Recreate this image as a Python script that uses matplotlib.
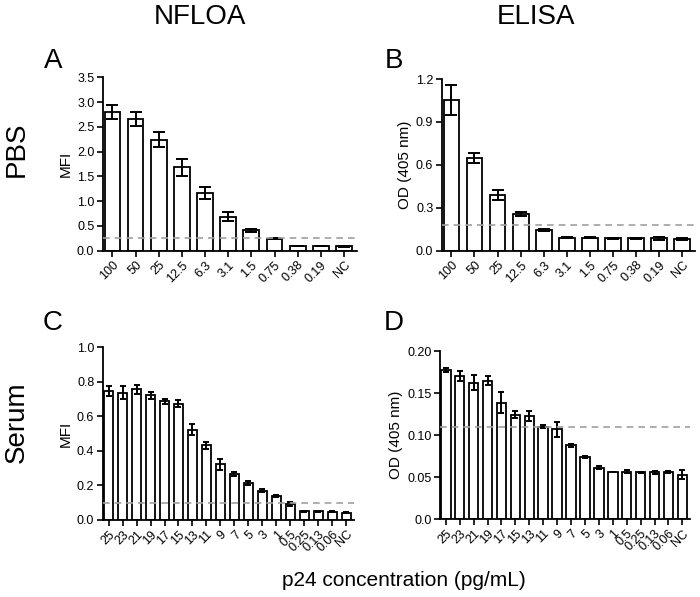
import numpy as np
import matplotlib
matplotlib.use("Agg")
import matplotlib.pyplot as plt

plt.rcParams["font.family"] = ["Liberation Sans", "DejaVu Sans"]

# PBS dilution series (pg/mL)
pbs_labels = ["100", "50", "25", "12.5", "6.3", "3.1", "1.5", "0.75", "0.38", "0.19", "NC"]
nfloa_pbs = [2.80, 2.66, 2.24, 1.68, 1.16, 0.69, 0.41, 0.24, 0.095, 0.09, 0.09]
nfloa_pbs_err = [0.14, 0.14, 0.15, 0.18, 0.12, 0.10, 0.03, 0.01, 0.005, 0.005, 0.008]
nfloa_pbs_cut = 0.26
elisa_pbs = [1.053, 0.648, 0.391, 0.257, 0.1435, 0.09, 0.09, 0.086, 0.086, 0.086, 0.083]
elisa_pbs_err = [0.105, 0.037, 0.035, 0.015, 0.006, 0.003, 0.004, 0.003, 0.003, 0.008, 0.005]
elisa_pbs_cut = 0.183

# Serum dilution series (pg/mL)
serum_labels = ["25", "23", "21", "19", "17", "15", "13", "11", "9", "7", "5", "3", "1",
                "0.5", "0.25", "0.13", "0.06", "NC"]
nfloa_serum = [0.748, 0.738, 0.756, 0.723, 0.688, 0.674, 0.523, 0.432, 0.322, 0.265,
               0.213, 0.169, 0.138, 0.095, 0.05, 0.052, 0.048, 0.043]
nfloa_serum_err = [0.03, 0.04, 0.025, 0.02, 0.015, 0.02, 0.03, 0.018, 0.03, 0.012,
                   0.012, 0.008, 0.006, 0.012, 0.003, 0.003, 0.004, 0.002]
nfloa_serum_cut = 0.1
elisa_serum = [0.1774, 0.1707, 0.1624, 0.1648, 0.1386, 0.1244, 0.1228, 0.110, 0.107,
               0.0879, 0.0737, 0.0614, 0.0562, 0.0566, 0.0558, 0.0558, 0.0558, 0.053]
elisa_serum_err = [0.0028, 0.006, 0.0085, 0.005, 0.0127, 0.004, 0.0063, 0.002, 0.009,
                   0.002, 0.001, 0.0015, 0.0005, 0.0015, 0.001, 0.0015, 0.0012, 0.0055]
elisa_serum_cut = 0.110


def bar_panel(ax, labels, vals, errs, cutoff, ymax, ystep, ylabel, capsize, fmt):
    x = np.arange(len(labels))
    ax.bar(x, vals, width=0.68, color="white", edgecolor="black", linewidth=1.3, zorder=2)
    ax.errorbar(x, vals, yerr=errs, fmt="none", ecolor="black", elinewidth=1.4,
                capsize=capsize, capthick=1.4, zorder=3)
    ax.axhline(cutoff, color="#a0a0a0", linestyle=(0, (4, 3)), linewidth=1.2, zorder=4)
    ax.set_xlim(-0.42, len(labels) - 0.45)
    ax.set_ylim(0, ymax)
    ticks = np.arange(0, ymax + ystep / 2, ystep)
    ax.set_yticks(ticks)
    ax.set_yticklabels([fmt(t) for t in ticks])
    ax.set_xticks(x)
    ax.set_xticklabels(labels, rotation=45, ha="right", rotation_mode="anchor")
    ax.set_ylabel(ylabel, fontsize=11, labelpad=3)
    ax.spines["top"].set_visible(False)
    ax.spines["right"].set_visible(False)
    for s in ["left", "bottom"]:
        ax.spines[s].set_linewidth(1.3)
    ax.tick_params(direction="out", length=4, width=1.2, labelsize=9, pad=2)


fig = plt.figure(figsize=(7.0, 5.97), dpi=100)
W, H = 700.0, 597.0


def add_axes(left, right, top, bottom):
    return fig.add_axes([left / W, 1 - bottom / H, (right - left) / W, (bottom - top) / H])


axA = add_axes(102.7, 356.7, 77.3, 250.7)
axB = add_axes(441.7, 695, 79, 250.7)
axC = add_axes(102.7, 354, 347.3, 520)
axD = add_axes(440, 690, 351, 519.3)

one = lambda t: "%.1f" % t
two = lambda t: "0.0" if t == 0 else "%.2f" % t

bar_panel(axA, pbs_labels, nfloa_pbs, nfloa_pbs_err, nfloa_pbs_cut, 3.5, 0.5, "MFI", 4, one)
bar_panel(axB, pbs_labels, elisa_pbs, elisa_pbs_err, elisa_pbs_cut, 1.2, 0.3, "OD (405 nm)", 4, one)
bar_panel(axC, serum_labels, nfloa_serum, nfloa_serum_err, nfloa_serum_cut, 1.0, 0.2, "MFI", 2.5, one)
bar_panel(axD, serum_labels, elisa_serum, elisa_serum_err, elisa_serum_cut, 0.20, 0.05, "OD (405 nm)", 2.5, two)

# headers and panel letters
fig.text(200 / W, 1 - 17 / H, "NFLOA", fontsize=20, ha="center", va="center")
fig.text(536 / W, 1 - 17 / H, "ELISA", fontsize=20, ha="center", va="center")
fig.text(53 / W, 1 - 61 / H, "A", fontsize=20, ha="center", va="center")
fig.text(394 / W, 1 - 61 / H, "B", fontsize=20, ha="center", va="center")
fig.text(53 / W, 1 - 323 / H, "C", fontsize=20, ha="center", va="center")
fig.text(394 / W, 1 - 323 / H, "D", fontsize=20, ha="center", va="center")
fig.text(17 / W, 1 - 149 / H, "PBS", fontsize=20, rotation=90, ha="center", va="center")
fig.text(17 / W, 1 - 422 / H, "Serum", fontsize=20, rotation=90, ha="center", va="center")
fig.text(404 / W, 1 - 581 / H, "p24 concentration (pg/mL)", fontsize=15, ha="center", va="center")

fig.savefig("out.png", dpi=100)
